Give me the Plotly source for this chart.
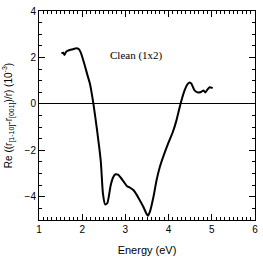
import plotly.graph_objects as go

energy = [1.52, 1.56, 1.59, 1.63, 1.71, 1.80, 1.86, 1.92, 1.97, 2.05, 2.12, 2.18, 2.26, 2.34,
          2.43, 2.48, 2.53, 2.58, 2.66, 2.72, 2.77, 2.83, 2.89, 2.96, 3.04, 3.10, 3.19, 3.31,
          3.42, 3.48, 3.52, 3.57, 3.65, 3.72, 3.80, 3.88, 3.99, 4.10, 4.18, 4.28, 4.37, 4.44,
          4.49, 4.53, 4.60, 4.68, 4.75, 4.81, 4.85, 4.90, 4.95, 5.02]
re_value = [2.18, 2.20, 2.11, 2.25, 2.32, 2.36, 2.40, 2.36, 2.20, 1.72, 1.25, 0.86, 0.0, -1.08,
            -2.47, -3.86, -4.33, -4.28, -3.5, -3.15, -3.03, -3.05, -3.17, -3.35, -3.55, -3.6,
            -3.72, -4.07, -4.45, -4.7, -4.82, -4.63, -4.0, -3.3, -2.7, -2.25, -1.7, -1.2,
            -0.72, 0.03, 0.58, 0.85, 0.92, 0.86, 0.58, 0.49, 0.51, 0.58, 0.49, 0.62, 0.72, 0.68]

x_ticks = [1, 2, 3, 4, 5, 6]
y_ticks = [-4, -2, 0, 2, 4]

fig = go.Figure()
fig.add_trace(go.Scatter(x=energy, y=re_value, mode="lines",
                         line=dict(color="black", width=2, shape="spline", smoothing=0.6),
                         showlegend=False, hoverinfo="skip"))

fig.add_annotation(x=3.25, y=2.1, text="Clean (1x2)", showarrow=False,
                   font=dict(family="Liberation Serif", size=11, color="black"))

axis_common = dict(showline=True, linecolor="black", linewidth=1, mirror="allticks",
                   ticks="inside", ticklen=6, tickcolor="black", tickwidth=1,
                   showgrid=False, tickfont=dict(family="Liberation Sans", size=10, color="black"))

fig.update_xaxes(range=[1, 6], tickvals=x_ticks, zeroline=False,
                 minor=dict(dtick=0.1, ticks="inside", ticklen=3, tickcolor="black", showgrid=False),
                 title=dict(text="Energy (eV)", font=dict(family="Liberation Sans", size=11, color="black"),
                            standoff=12),
                 **axis_common)
fig.update_yaxes(range=[-5, 4], tickvals=y_ticks, zeroline=True, zerolinecolor="black", zerolinewidth=1,
                 minor=dict(dtick=0.5, ticks="inside", ticklen=3, tickcolor="black", showgrid=False),
                 title=dict(text="Re ((r<sub>[1-10]</sub>-r<sub>[001]</sub>)/r) (10<sup>-3</sup>)",
                            font=dict(family="Liberation Sans", size=10, color="black"), standoff=10),
                 **axis_common)

fig.update_layout(width=263, height=260, margin=dict(l=39, r=5, t=9, b=36),
                  plot_bgcolor="white", paper_bgcolor="white")

fig.write_html("out.html")
